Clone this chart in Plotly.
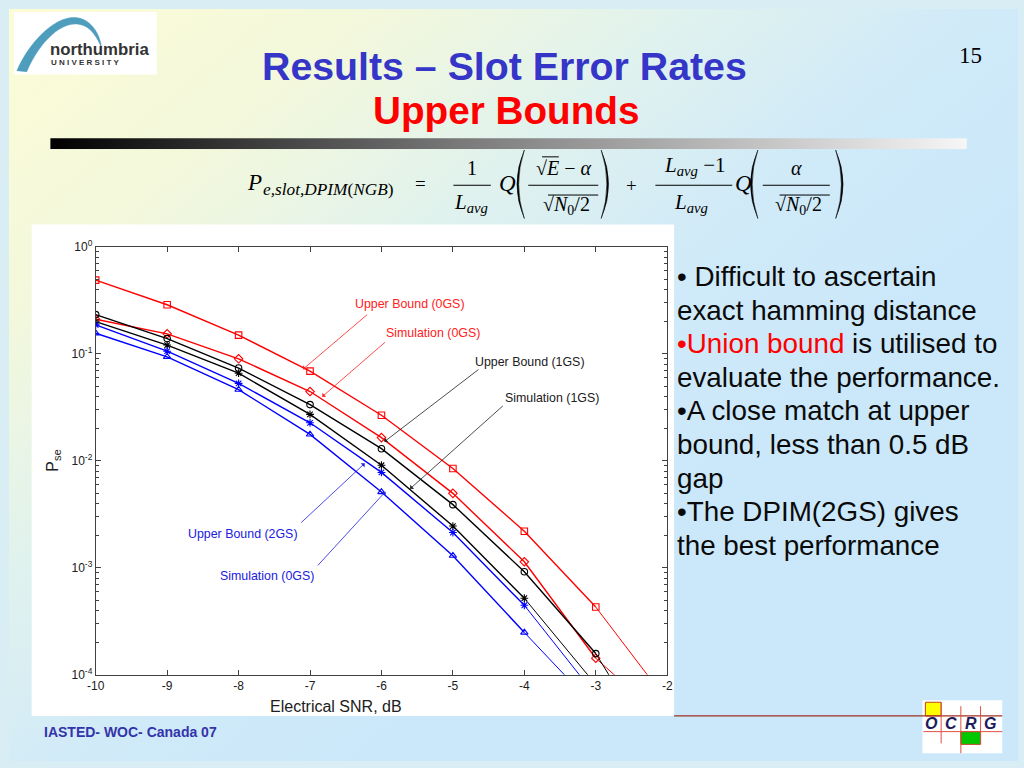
import math
import base64
import plotly.graph_objects as go

W, H = 1024, 768

# ---------------- data ----------------
snr = [-10, -9, -8, -7, -6, -5, -4, -3]
snr_short = [-10, -9, -8, -7, -6, -5, -4]

ub_0gs = [0.49, 0.288, 0.150, 0.069, 0.0267, 0.0085, 0.0022, 4.3e-4]
sim_0gs = [0.211, 0.154, 0.090, 0.0445, 0.0165, 0.00497, 0.00114, 1.43e-4]
ub_1gs = [0.233, 0.139, 0.0738, 0.0336, 0.0130, 0.0039, 9.2e-4, 1.58e-4]
sim_1gs = [0.200, 0.121, 0.066, 0.0272, 0.0091, 0.00246, 5.2e-4]
ub_2gs = [0.187, 0.106, 0.053, 0.0227, 0.0078, 0.00214, 4.47e-4]
sim_2gs = [0.156, 0.094, 0.0464, 0.0177, 0.00512, 0.0013, 2.49e-4]

# line continuations below the last marker (leave the frame at the bottom)
tail_x_long = [-3, -2]
tail_x_short = [-4, -3]
tail_ub_0gs = [4.3e-4, 5.7e-5]
tail_sim_0gs = [1.43e-4, 3.6e-5]
tail_ub_1gs = [1.58e-4, 1.3e-5]
tail_sim_1gs = [5.2e-4, 8.1e-5]
tail_ub_2gs = [4.47e-4, 6.4e-5]
tail_sim_2gs = [2.49e-4, 4.9e-5]

x_ticks = [-10, -9, -8, -7, -6, -5, -4, -3, -2]
x_ticktext = ["-10", "-9", "-8", "-7", "-6", "-5", "-4", "-3", "-2"]
y_ticks = [1e-4, 1e-3, 1e-2, 1e-1, 1]
y_ticktext = ["10<sup>-4</sup>", "10<sup>-3</sup>", "10<sup>-2</sup>", "10<sup>-1</sup>", "10<sup>0</sup>"]
y_minor = [m * 10 ** e for e in (-4, -3, -2, -1) for m in range(2, 10)]

RED, BLACK, BLUE = "#ff0000", "#000000", "#0000ff"

series = [
    ("Upper Bound (0GS)", snr, ub_0gs, tail_x_long, tail_ub_0gs, RED, "square-open"),
    ("Simulation (0GS)", snr, sim_0gs, tail_x_long, tail_sim_0gs, RED, "diamond-open"),
    ("Upper Bound (1GS)", snr, ub_1gs, tail_x_long, tail_ub_1gs, BLACK, "circle-open"),
    ("Simulation (1GS)", snr_short, sim_1gs, tail_x_short, tail_sim_1gs, BLACK, "asterisk-open"),
    ("Upper Bound (2GS)", snr_short, ub_2gs, tail_x_short, tail_ub_2gs, BLUE, "asterisk-open"),
    ("Simulation (2GS)", snr_short, sim_2gs, tail_x_short, tail_sim_2gs, BLUE, "triangle-up-open"),
]

# chart labels: (text, colour, text position, arrow tail, arrow head) in data units
chart_labels = [
    ("Upper Bound (0GS)", "#ff2020", (-5.60, 0.294), (-6.18, 0.239), (-7.10, 0.0718)),
    ("Simulation (0GS)", "#ff2020", (-5.28, 0.157), (-5.93, 0.132), (-6.83, 0.0398)),
    ("Upper Bound (1GS)", "#202020", (-3.92, 0.0849), (-4.62, 0.0733), (-5.96, 0.0151)),
    ("Simulation (1GS)", "#202020", (-3.61, 0.0389), (-4.28, 0.0336), (-5.60, 0.00548)),
    ("Upper Bound (2GS)", "#2020e0", (-7.945, 0.00208), (-7.145, 0.00257), (-6.234, 0.00948)),
    ("Simulation (0GS)", "#2020e0", (-7.60, 8.41e-4), (-6.91, 0.00102), (-5.945, 0.00515)),
]

bullets = [
    "• Difficult to ascertain",
    "exact hamming distance",
    "<span style='color:#ff0000'>•Union bound</span> is utilised to",
    "evaluate the performance.",
    "•A close match at upper",
    "bound, less than 0.5 dB",
    "gap",
    "•The DPIM(2GS) gives",
    "the best performance",
]

# ---------------- helpers ----------------
def fx(p):
    return p / W


def fy(p):
    return 1 - p / H


annotations = []
shapes = []


def add_text(x, y, text, size, color="black", family="Liberation Sans", xanchor="center",
             yanchor="middle", angle=0):
    annotations.append(dict(x=fx(x), y=fy(y), xref="paper", yref="paper", text=text,
                            showarrow=False, textangle=angle,
                            font=dict(size=size, color=color, family=family),
                            xanchor=xanchor, yanchor=yanchor))


def add_line(x0, y0, x1, y1, color="black", width=1.0, layer="above"):
    shapes.append(dict(type="line", xref="paper", yref="paper", x0=fx(x0), y0=fy(y0),
                       x1=fx(x1), y1=fy(y1), line=dict(color=color, width=width), layer=layer))


def add_rect(x0, y0, x1, y1, fill, line_color=None, layer="below", width=1):
    shapes.append(dict(type="rect", xref="paper", yref="paper", x0=fx(x0), y0=fy(y0),
                       x1=fx(x1), y1=fy(y1), fillcolor=fill,
                       line=dict(color=line_color or fill, width=width if line_color else 0),
                       layer=layer))


def add_path(cmds, fill, line_color=None, width=0.5, layer="above"):
    parts = []
    for c in cmds:
        op = c[0]
        pts = c[1:]
        parts.append(op + " " + " ".join(f"{fx(px):.5f},{fy(py):.5f}" for px, py in pts))
    path = " ".join(parts) + " Z"
    shapes.append(dict(type="path", xref="paper", yref="paper", path=path, fillcolor=fill,
                       line=dict(color=line_color or fill, width=width), layer=layer))


# ---------------- background (gradient slide + title rule) ----------------
bg_svg = """<svg xmlns='http://www.w3.org/2000/svg' width='1024' height='768' viewBox='0 0 1024 768' preserveAspectRatio='none'>
<defs>
<linearGradient id='bg' gradientUnits='userSpaceOnUse' x1='0' y1='0' x2='520' y2='620'>
<stop offset='0' stop-color='#fcfcd6'/>
<stop offset='0.3' stop-color='#f3f8dc'/>
<stop offset='0.55' stop-color='#e0f2ee'/>
<stop offset='0.78' stop-color='#d0eaf8'/>
<stop offset='1' stop-color='#cbe8fa'/>
</linearGradient>
<linearGradient id='bar' x1='0' y1='0' x2='1' y2='0'>
<stop offset='0' stop-color='#000000'/>
<stop offset='0.45' stop-color='#7a7a7a'/>
<stop offset='1' stop-color='#f6f6f6'/>
</linearGradient>
</defs>
<rect width='1024' height='768' fill='url(#bg)'/>
<rect x='42' y='132' width='930' height='11' fill='url(#bar)'/>
</svg>"""
bg_uri = "data:image/svg+xml;base64," + base64.b64encode(bg_svg.encode()).decode()

# white chart picture area
add_rect(23, 220, 675, 722, "white")

# ---------------- figure & data traces ----------------
fig = go.Figure()
for name, xs, ys, tx, ty, col, sym in series:
    fig.add_trace(go.Scatter(x=tx, y=ty, mode="lines", line=dict(color=col, width=1),
                             showlegend=False, hoverinfo="skip"))
    fig.add_trace(go.Scatter(x=xs, y=ys, mode="lines+markers", name=name,
                             line=dict(color=col, width=1.4),
                             marker=dict(symbol=sym, size=6.5, color=col,
                                         line=dict(color=col, width=1.1)),
                             showlegend=False))

# chart labels with arrows
for text, col, tpos, tail, head in chart_labels:
    annotations.append(dict(x=tpos[0], y=math.log10(tpos[1]), xref="x", yref="y", text=text,
                            showarrow=False,
                            font=dict(size=12.4, color=col, family="Liberation Sans")))
    annotations.append(dict(x=head[0], y=math.log10(head[1]), xref="x", yref="y",
                            ax=tail[0], ay=math.log10(tail[1]), axref="x", ayref="y",
                            text="", showarrow=True, arrowhead=1, arrowsize=1.2,
                            arrowwidth=0.8, arrowcolor=col, standoff=0, startstandoff=0))

# axis titles
add_text(332, 712, "Electrical SNR, dB", 16, color="#202020")
add_text(45, 461, "P<sub>se</sub>", 16, color="#202020", angle=-90)

# ---------------- slide texts ----------------
add_text(503, 58, "<b>Results – Slot Error Rates</b>", 39.3, color="#3535c8")
add_text(505, 104, "<b>Upper Bounds</b>", 38.7, color="#ff0000")
add_text(976, 47, "15", 23, family="Liberation Serif")

# bullets
line_y = [273, 307.5, 342, 376, 410.5, 445, 479, 513.5, 548]
for yy, t in zip(line_y, bullets):
    add_text(676, yy, t, 27.8, color="#0a0a0a", xanchor="left")

# footer
add_text(33, 738, "<b>IASTED- WOC- Canada 07</b>", 14, color="#3333aa", xanchor="left")

# ---------------- formula ----------------
SERIF = "Liberation Serif"
add_text(249, 177, "<i>P</i>", 23, family=SERIF)
add_text(256, 184, "<i>e,slot,DPIM</i>(<i>NGB</i>)", 17.3, family=SERIF, xanchor="left")
add_text(418, 178, "=", 19, family=SERIF)
add_text(470, 162, "1", 20, family=SERIF)
add_line(451, 180, 489, 180, width=1)
add_text(469, 198, "<i>L</i><sub><i>avg</i></sub>", 21, family=SERIF)
add_text(506, 178, "<i>Q</i>", 23, family=SERIF)
add_path([("M", (523, 144)), ("Q", (508, 179), (523, 214)), ("Q", (511.5, 179), (523, 144))], "black")
add_path([("M", (601, 144)), ("Q", (616, 179), (601, 214)), ("Q", (612.5, 179), (601, 144))], "black")
add_text(563, 162, "√<i>E</i> − <i>α</i>", 20, family=SERIF)
add_line(541, 151, 558, 151, width=1)
add_line(527, 180, 598, 180, width=1)
add_text(566, 201, "√<i>N</i><sub>0</sub>/2", 20, family=SERIF)
add_line(547, 190, 598, 190, width=1)
add_text(632, 180, "+", 19, family=SERIF)
add_text(696, 160, "<i>L</i><sub><i>avg</i></sub> −1", 21, family=SERIF)
add_line(656, 180, 734, 180, width=1)
add_text(692, 198, "<i>L</i><sub><i>avg</i></sub>", 21, family=SERIF)
add_text(745, 178, "<i>Q</i>", 23, family=SERIF)
add_path([("M", (760, 144)), ("Q", (745, 179), (760, 214)), ("Q", (748.5, 179), (760, 144))], "black")
add_path([("M", (839, 144)), ("Q", (854, 179), (839, 214)), ("Q", (850.5, 179), (839, 144))], "black")
add_text(799, 162, "<i>α</i>", 20, family=SERIF)
add_line(765, 180, 833, 180, width=1)
add_text(801, 201, "√<i>N</i><sub>0</sub>/2", 20, family=SERIF)
add_line(782, 190, 833, 190, width=1)

# ---------------- Northumbria logo ----------------
add_rect(5, 3, 150, 67, "white")
add_path([("M", (8, 63)), ("C", (22, 30), (55, -2), (78, 12)), ("C", (88, 18), (93, 30), (94, 40)),
          ("C", (90, 30), (84, 20), (76, 17)), ("C", (55, 8), (30, 35), (18, 64))], "#4e9dbd")
add_text(40, 41, "<b>northumbria</b>", 16.8, color="#333333", xanchor="left")
add_text(41, 55, "<b>U N I V E R S I T Y</b>", 8, color="#333333", xanchor="left")

# ---------------- OCRG logo ----------------
add_rect(927, 706, 1008, 760, "white", layer="above")
add_rect(930, 708, 946, 722, "#ffff00", line_color="#c04020", layer="above")
add_rect(966, 738, 986, 751, "#00c800", line_color="#c04020", layer="above")
add_line(675, 722, 1008, 722, color="#a03020", width=1.3)
add_line(928, 738, 1008, 738, color="#e05040", width=1)
add_line(946, 708, 946, 750, color="#e05040", width=1)
add_line(966, 712, 966, 760, color="#e05040", width=1)
add_line(986, 712, 986, 750, color="#e05040", width=1)
for lx, letter in zip([936, 956, 976, 996], ["O", "C", "R", "G"]):
    add_text(lx, 730, "<b><i>" + letter + "</i></b>", 16, color="#1c1c5c")

# ---------------- layout ----------------
axis_col = "#404040"
fig.update_layout(
    width=W, height=H, margin=dict(l=0, r=0, t=0, b=0),
    paper_bgcolor="#d8eef4", plot_bgcolor="rgba(0,0,0,0)",
    showlegend=False,
    images=[dict(source=bg_uri, xref="paper", yref="paper", x=0, y=1, sizex=1, sizey=1,
                 xanchor="left", yanchor="top", sizing="stretch", layer="below")],
    shapes=shapes, annotations=annotations,
    font=dict(family="Liberation Sans", size=12, color="#202020"),
    xaxis=dict(domain=[88 / W, 668 / W], range=[-10, -2], tickvals=x_ticks, ticktext=x_ticktext,
               ticks="inside", ticklen=5, tickcolor=axis_col, showline=True, linecolor=axis_col,
               linewidth=1, mirror="ticks", showgrid=False, zeroline=False,
               tickfont=dict(size=12, color="#202020")),
    yaxis=dict(domain=[1 - 680 / H, 1 - 243 / H], type="log", range=[-4, 0], tickvals=y_ticks,
               ticktext=y_ticktext, ticks="inside", ticklen=5, tickcolor=axis_col, showline=True,
               linecolor=axis_col, linewidth=1, mirror="ticks", showgrid=False, zeroline=False,
               tickfont=dict(size=12, color="#202020"),
               minor=dict(tickmode="array", tickvals=y_minor, ticks="inside", ticklen=3,
                          tickcolor=axis_col, showgrid=False)),
)

fig.write_html(
    "out.html",
    config={"displayModeBar": False},
    post_script="document.body.style.margin='0';document.body.style.padding='0';",
)
